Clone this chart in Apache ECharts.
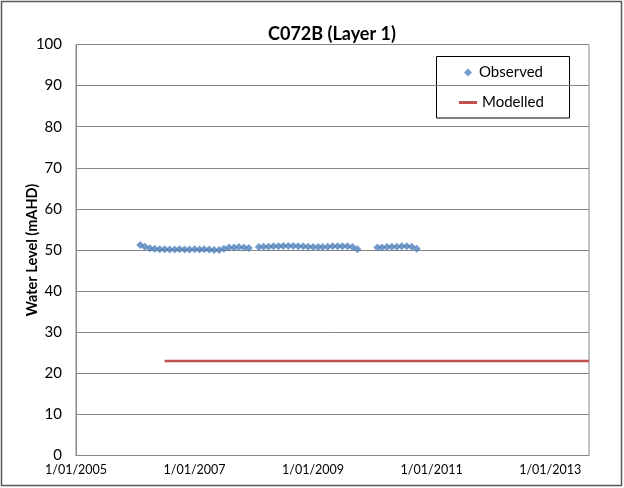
<!DOCTYPE html>
<html>
<head>
<meta charset="utf-8">
<script src="https://cdn.jsdelivr.net/npm/echarts@6/dist/echarts.min.js"></script>
<style>
html,body{margin:0;padding:0;background:#fff;}
#chart{width:624px;height:488px;}
</style>
</head>
<body>
<div id="chart"></div>
<script>
// ---- data ----
const titleText = 'C072B (Layer 1)';
const yAxisTitle = 'Water Level (mAHD)';
const seriesNames = ['Observed', 'Modelled'];
const xTickYears = [2005, 2007, 2009, 2011, 2013];
const xAxisStart = '2005-01-01';
const xAxisEnd = '2013-08-28';
const yTicks = [0, 10, 20, 30, 40, 50, 60, 70, 80, 90, 100];

const observedDates = [
  '2006-02-01','2006-03-01','2006-04-01','2006-05-01','2006-06-01','2006-07-01','2006-08-01','2006-09-01',
  '2006-10-01','2006-11-01','2006-12-01','2007-01-01','2007-02-01','2007-03-01','2007-04-01','2007-05-01',
  '2007-06-01','2007-07-01','2007-08-01','2007-09-01','2007-10-01','2007-11-01','2007-12-01',
  '2008-02-01','2008-03-01','2008-04-01','2008-05-01','2008-06-01','2008-07-01','2008-08-01','2008-09-01',
  '2008-10-01','2008-11-01','2008-12-01','2009-01-01','2009-02-01','2009-03-01','2009-04-01','2009-05-01',
  '2009-06-01','2009-07-01','2009-08-01','2009-09-01','2009-10-01',
  '2010-02-01','2010-03-01','2010-04-01','2010-05-01','2010-06-01','2010-07-01','2010-08-01','2010-09-01','2010-10-01'
];
const observedValues = [
  51.2, 50.8, 50.4, 50.3, 50.2, 50.2, 50.1, 50.1,
  50.2, 50.1, 50.1, 50.2, 50.1, 50.2, 50.1, 50.0,
  50.0, 50.3, 50.6, 50.6, 50.7, 50.6, 50.5,
  50.7, 50.8, 50.8, 50.9, 50.9, 51.0, 51.0, 51.0,
  50.9, 50.9, 50.8, 50.7, 50.7, 50.7, 50.8, 50.9,
  50.9, 50.9, 50.9, 50.7, 50.2,
  50.6, 50.6, 50.7, 50.8, 50.8, 50.9, 50.9, 50.8, 50.3
];
const modelledDates = ['2006-07-01', '2013-08-28'];
const modelledValues = [23, 23];

// ---- helpers ----
function decYear(s) {
  const p = s.split('-').map(Number);
  const y = p[0];
  const t = Date.UTC(y, p[1] - 1, p[2]);
  const a = Date.UTC(y, 0, 1), b = Date.UTC(y + 1, 0, 1);
  return y + (t - a) / (b - a);
}
const obsData = observedDates.map((d, i) => [decYear(d), observedValues[i]]);
const modData = modelledDates.map((d, i) => [decYear(d), modelledValues[i]]);

const FONT = 'Lato, "Open Sans", sans-serif';
const legendText = {fontFamily: FONT, fontSize: 15, color: '#000'};
const chart = echarts.init(document.getElementById('chart'), null, {renderer: 'canvas'});
chart.setOption({
  animation: false,
  backgroundColor: '#fff',
  title: {
    text: titleText,
    left: 327, top: 20, textAlign: 'center',
    textStyle: {fontFamily: FONT, fontSize: 18, fontWeight: 'bold', color: '#000'}
  },
  legend: [
    {
      left: 464, top: 65, padding: 0,
      itemWidth: 8, itemHeight: 8,
      textStyle: Object.assign({padding: [0, 0, 0, 2]}, legendText),
      data: [{name: seriesNames[0], icon: 'diamond'}]
    },
    {
      left: 459, top: 95, padding: 0,
      itemWidth: 18, itemHeight: 3,
      textStyle: legendText,
      data: [{name: seriesNames[1], icon: 'rect'}]
    }
  ],
  grid: {left: 76, right: 35, top: 44.5, bottom: 32.5, show: true, borderColor: '#868686', borderWidth: 1},
  xAxis: {
    type: 'value',
    min: decYear(xAxisStart), max: decYear(xAxisEnd), interval: 2,
    splitLine: {show: false},
    axisLine: {show: true, lineStyle: {color: '#868686'}},
    axisTick: {show: false},
    axisLabel: {
      fontFamily: FONT, fontSize: 12.5, color: '#000', margin: 8,
      customValues: xTickYears,
      formatter: v => '1/01/' + Math.round(v)
    }
  },
  yAxis: {
    type: 'value',
    min: yTicks[0], max: yTicks[yTicks.length - 1], interval: 10,
    name: yAxisTitle, nameLocation: 'middle', nameGap: 36, nameMoveOverlap: false,
    nameTextStyle: {fontFamily: FONT, fontSize: 14.5, fontWeight: 'bold', color: '#000'},
    axisLine: {show: true, lineStyle: {color: '#868686'}},
    axisTick: {show: false},
    splitLine: {show: true, lineStyle: {color: '#868686', width: 1}},
    axisLabel: {fontFamily: FONT, fontSize: 15, color: '#000', margin: 14}
  },
  series: [
    {
      name: seriesNames[0], type: 'scatter',
      symbol: 'diamond', symbolSize: 8,
      itemStyle: {color: '#4F81BD'},
      data: obsData, z: 3
    },
    {
      name: seriesNames[1], type: 'line',
      symbol: 'none', showSymbol: false,
      lineStyle: {color: '#C0504D', width: 2.5},
      itemStyle: {color: '#C0504D'},
      data: modData, z: 2
    }
  ],
  graphic: [
    {
      type: 'rect', silent: true,
      shape: {x: 436.5, y: 56.5, width: 133, height: 61.5},
      style: {fill: '#fff', stroke: '#000', lineWidth: 1},
      z: 0, zlevel: 0
    },
    {
      type: 'rect', silent: true,
      shape: {x: 1.5, y: 1.5, width: 620, height: 484},
      style: {fill: null, stroke: '#595959', lineWidth: 1.5},
      z: 100
    }
  ]
});
</script>
</body>
</html>
